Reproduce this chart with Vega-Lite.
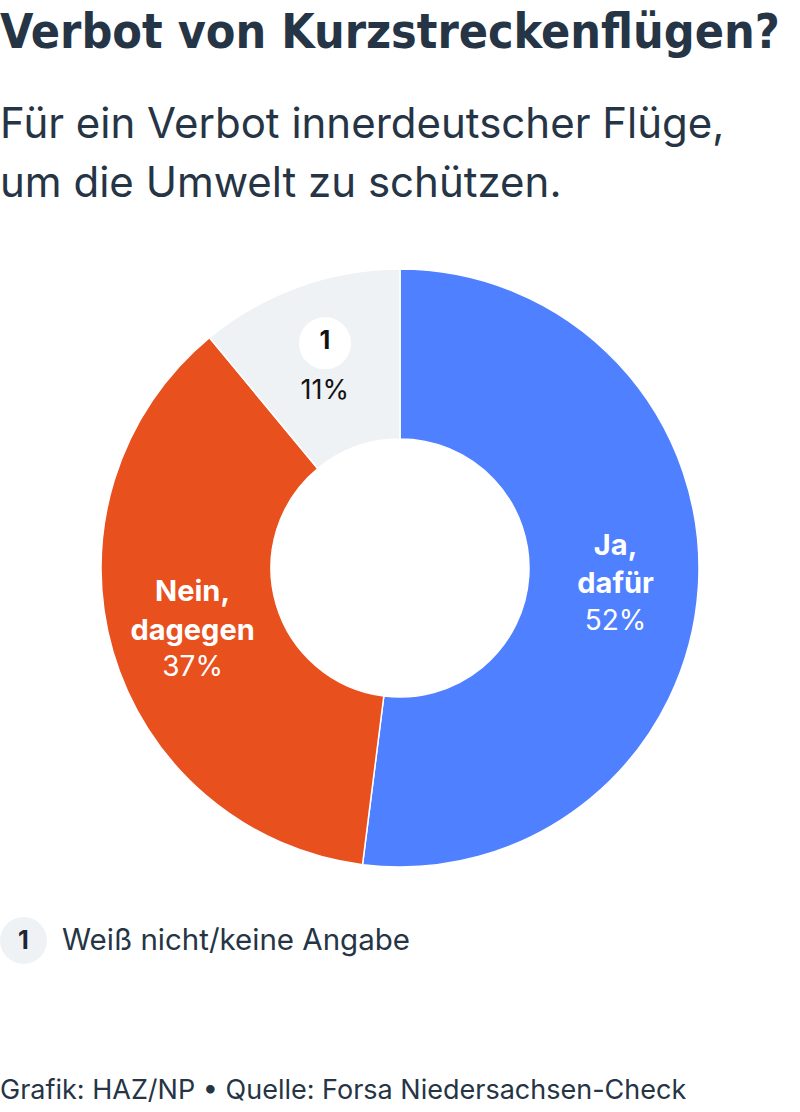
{
  "$schema": "https://vega.github.io/schema/vega-lite/v6.json",
  "padding": {"top": 10, "left": 0, "right": 0, "bottom": 4},
  "background": "white",
  "spacing": 0,
  "title": {
    "text": "Verbot von Kurzstreckenflügen?",
    "subtitle": ["Für ein Verbot innerdeutscher Flüge,", "um die Umwelt zu schützen."],
    "anchor": "start",
    "frame": "bounds",
    "font": "DejaVu Sans Condensed",
    "fontSize": 48,
    "fontWeight": "bold",
    "color": "#263545",
    "subtitleFont": "Inter",
    "subtitleFontSize": 42,
    "subtitleColor": "#263545",
    "subtitleLineHeight": 59,
    "subtitlePadding": 47,
    "offset": 16
  },
  "vconcat": [
    {
      "width": 800,
      "height": 694,
      "title": {
        "text": "Grafik: HAZ/NP • Quelle: Forsa Niedersachsen-Check",
        "orient": "bottom",
        "anchor": "start",
        "frame": "bounds",
        "font": "Inter",
        "fontSize": 27,
        "fontWeight": "normal",
        "color": "#263545",
        "offset": 163
      },
      "data": {
        "values": [
          {"cat": "Ja, dafür", "lines": ["Ja,", "dafür"], "pct": 52, "label": "52%", "ref": "", "ord": 1},
          {"cat": "Nein, dagegen", "lines": ["Nein,", "dagegen"], "pct": 37, "label": "37%", "ref": "", "ord": 2},
          {"cat": "Weiß nicht/keine Angabe", "lines": [""], "pct": 11, "label": "11%", "ref": "1", "ord": 3}
        ]
      },
      "encoding": {
        "theta": {"field": "pct", "type": "quantitative", "stack": true},
        "order": {"field": "ord", "type": "quantitative"}
      },
      "layer": [
        {
          "mark": {"type": "arc", "outerRadius": 299, "innerRadius": 129, "stroke": "white", "strokeWidth": 1.5},
          "encoding": {
            "fill": {
              "field": "cat",
              "type": "nominal",
              "scale": {"domain": ["Ja, dafür", "Nein, dagegen", "Weiß nicht/keine Angabe"], "range": ["#4f80ff", "#e8501e", "#eff2f5"]},
              "legend": {
                "values": ["Weiß nicht/keine Angabe"],
                "orient": "none",
                "legendX": 0,
                "legendY": 696,
                "symbolType": "circle",
                "symbolSize": 2209,
                "symbolStrokeWidth": 0,
                "labelExpr": "'1'",
                "labelFont": "Inter",
                "labelFontSize": 25,
                "labelFontWeight": "bold",
                "labelColor": "#1d2733",
                "labelAlign": "center",
                "labelBaseline": "middle",
                "labelOffset": -23.5,
                "title": "Weiß nicht/keine Angabe",
                "titleOrient": "right",
                "titleAnchor": "middle",
                "titleBaseline": "middle",
                "titleFont": "Inter",
                "titleFontSize": 29.5,
                "titleFontWeight": "normal",
                "titleColor": "#263545",
                "titlePadding": 15,
                "titleLimit": 600,
                "encode": {"symbols": {"update": {"fill": {"value": "#ededed"}, "stroke": {"value": "transparent"}}}}
              }
            }
          }
        },
        {
          "mark": {"type": "text", "radius": 216, "font": "Inter", "fontSize": 29, "fontWeight": "bold", "fill": "white", "dy": -27, "lineHeight": 38.5, "baseline": "alphabetic", "align": "center"},
          "encoding": {"text": {"field": "lines"}}
        },
        {
          "mark": {"type": "text", "radius": 216, "font": "Inter", "fontSize": 28, "fontWeight": "normal", "fill": "white", "dy": 48, "baseline": "alphabetic", "align": "center"},
          "encoding": {"text": {"condition": {"test": "datum.ord == 3", "value": ""}, "field": "label"}}
        },
        {
          "mark": {"type": "text", "radius": 216, "font": "Inter", "fontSize": 27, "fontWeight": "normal", "fill": "#111111", "dy": 34, "dx": -2, "baseline": "alphabetic", "align": "center"},
          "encoding": {"text": {"condition": {"test": "datum.ord != 3", "value": ""}, "field": "label"}}
        },
        {
          "mark": {"type": "text", "radius": 216, "font": "DejaVu Sans", "fontSize": 68, "fill": "white", "dy": -24, "dx": -2, "baseline": "middle", "align": "center"},
          "encoding": {"text": {"condition": {"test": "datum.ord != 3", "value": ""}, "value": "●"}}
        },
        {
          "mark": {"type": "text", "radius": 216, "font": "Inter", "fontSize": 25, "fontWeight": "bold", "fill": "#111111", "dy": -24, "dx": -2, "baseline": "middle", "align": "center"},
          "encoding": {"text": {"field": "ref"}}
        }
      ]
    }
  ],
  "config": {"view": {"stroke": null}}
}
